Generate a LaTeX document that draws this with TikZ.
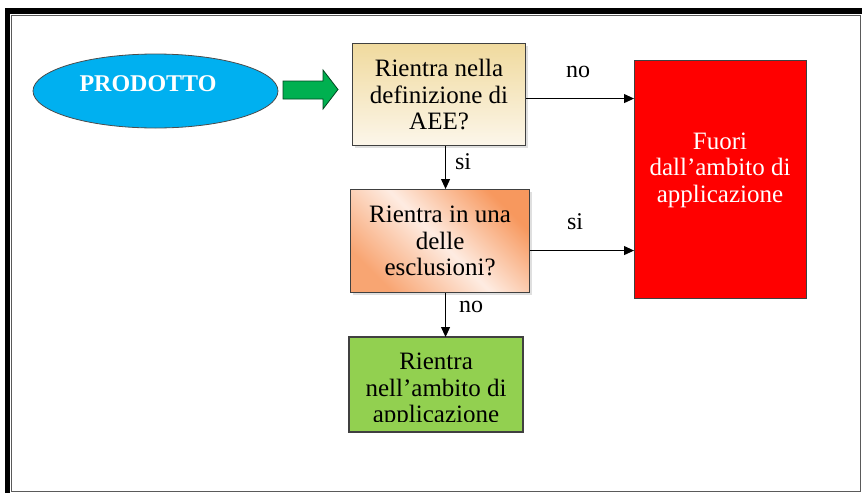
\documentclass[tikz,border=0pt]{standalone}
\usepackage{fontspec}
\setmainfont{Liberation Serif}
\usetikzlibrary{arrows.meta,shapes.geometric,shadows}
\definecolor{cyanE}{RGB}{0,176,240}
\definecolor{greenA}{RGB}{0,176,80}
\definecolor{tanT}{RGB}{240,218,158}
\definecolor{tanB}{RGB}{252,246,234}
\definecolor{orS}{RGB}{247,152,94}
\definecolor{peachL}{RGB}{254,236,226}
\definecolor{greenB}{RGB}{146,208,80}
\definecolor{redR}{RGB}{255,0,0}
\definecolor{frameG}{RGB}{90,90,90}
\begin{document}
\begin{tikzpicture}[x=1pt,y=-1pt,
  txt/.style={font=\fontsize{25}{26.5}\selectfont, align=center, inner sep=0pt},
  box/.style={draw=black!75, line width=1.1pt, inner sep=0pt, anchor=north west, txt},
  shad/.style={drop shadow={shadow xshift=2pt, shadow yshift=-2pt, opacity=0.25}},
  arr/.style={draw=black, line width=0.9pt, -{Triangle[length=10pt,width=9pt]}},
  lab/.style={font=\fontsize{24}{26}\selectfont, inner sep=0pt}
]
\useasboundingbox (0,0) rectangle (862,493);
% frame
\fill[black] (5,8) rectangle (862,13.5);
\fill[black] (5,8) rectangle (9.5,493);
\draw[frameG, line width=1pt] (11.5,15.5) rectangle (860.5,491.5);

% start ellipse
\node[ellipse, draw=black!70, line width=0.8pt, fill=cyanE, minimum width=245pt, minimum height=74pt, inner sep=0pt] (prod) at (155.5,91) {};
\node[txt, text=white, font=\fontsize{24}{26}\selectfont\bfseries] (prodt) at (148,84) {PRODOTTO};

% green block arrow
\draw[fill=greenA, draw=black!60!greenA, line width=0.8pt] (283,81) -- (323,81) -- (323,70) -- (338,89.5) -- (323,109) -- (323,99) -- (283,99) -- cycle;
\coordinate (garrow) at (310,89.5);

% boxes
\node[box, shad, top color=tanT, bottom color=tanB, minimum width=173pt, minimum height=102pt] (b1) at (352,43) {Rientra nella\\definizione di\\AEE?};
\node[box, shad, top color=orS, bottom color=orS!85!peachL, middle color=peachL, shading angle=-45, minimum width=179pt, minimum height=103pt] (b2) at (350,189) {Rientra in una\\delle\\esclusioni?};
\node[box, fill=greenB, minimum width=173pt, minimum height=94pt] (b3) at (349,337) {};
\begin{scope}
  \clip (b3.north west) rectangle ([yshift=10.5pt]b3.south east);
  \node[txt, anchor=north] (t3) at ([yshift=-16pt]b3.north) {Rientra\\nell'ambito di\\applicazione};
\end{scope}
\draw[black!75, line width=1.1pt] (b3.north west) rectangle (b3.south east);

\node[box, fill=redR, minimum width=172pt, minimum height=238pt] (red) at (634,60) {};
\node[txt, text=white] (redt) at (720,170) {Fuori\\dall'ambito di\\applicazione};

% connectors
\draw[arr] ([yshift=-4pt]b1.east) -- ([yshift=-4pt]b1.east -| red.west);
\draw[arr] ([xshift=6.5pt]b1.south) -- ([xshift=6.5pt]b1.south |- b2.north);
\draw[arr] ([yshift=-9.5pt]b2.east) -- ([yshift=-9.5pt]b2.east -| red.west);
\draw[arr] ([xshift=5.5pt]b2.south) -- ([xshift=5.5pt]b2.south |- b3.north);

% labels
\node[lab] (l1) at (578,72) {no};
\node[lab] (l2) at (463,162) {si};
\node[lab] (l3) at (575,222) {si};
\node[lab] (l4) at (471,307) {no};
\end{tikzpicture}
\end{document}
